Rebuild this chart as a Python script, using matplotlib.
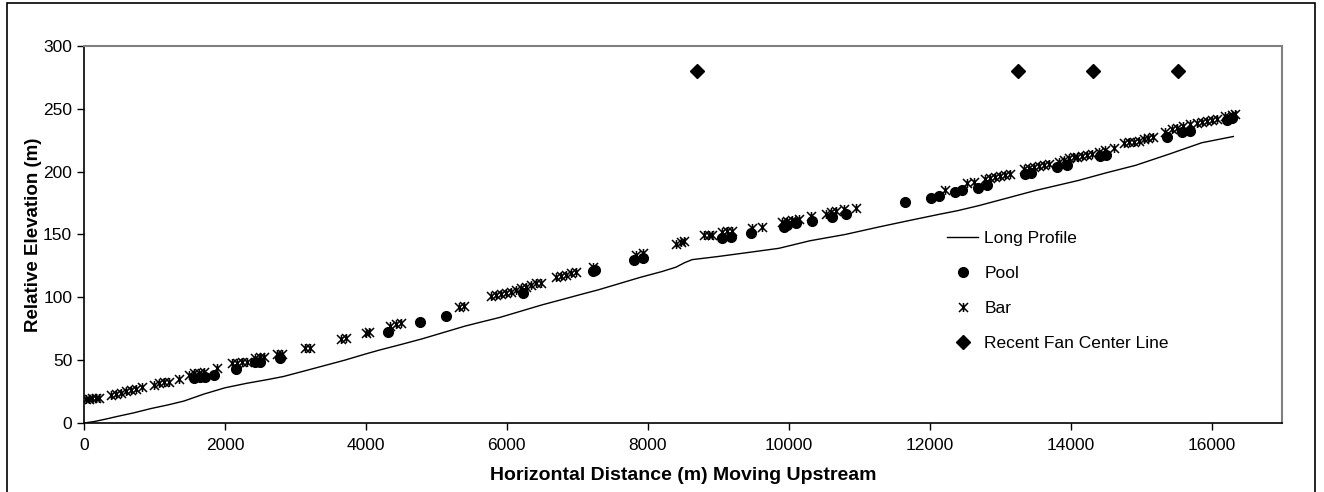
import matplotlib
matplotlib.use("Agg")
import matplotlib.pyplot as plt
from matplotlib.path import Path
from matplotlib.patches import Rectangle

plt.rcParams['font.family'] = ['Liberation Sans', 'DejaVu Sans']

# Long profile (thalweg) line
lp_x = [0, 150, 300, 470, 700, 950, 1200, 1420, 1700, 2000, 2300, 2600, 2830, 3100, 3400,
        3700, 4000, 4190, 4500, 4800, 5100, 5400, 5610, 5900, 6200, 6500, 6800, 7030, 7300,
        7600, 7900, 8200, 8400, 8520, 8630, 9000, 9400, 9860, 10300, 10800, 11280, 11700,
        12130, 12400, 12700, 13100, 13500, 14110, 14500, 14920, 15400, 15860, 16310]
lp_y = [0, 1.2, 3, 5.2, 8, 11.5, 14.5, 17.5, 23, 28, 31.5, 34.5, 37, 41, 45.5,
        50, 55, 58, 62.5, 67, 72, 77, 80, 84, 89, 94, 98.5, 102, 106,
        111, 116, 120.5, 124, 127.5, 130, 132.5, 135.5, 139, 145, 150, 156, 161,
        166, 169, 173, 179, 185, 193, 199, 205, 214, 223, 228]

# Pools
pool_x = [1559, 1653, 1724, 1842, 2150, 2433, 2504, 2787, 4312, 4775, 5140, 6225, 7217, 7255,
          7808, 7926, 9059, 9177, 9460, 9933, 9980, 10099, 10334, 10608, 10807, 11648, 12026,
          12129, 12356, 12460, 12687, 12814, 13358, 13443, 13806, 13948, 14420, 14500, 15365,
          15577, 15696, 16215, 16286]
pool_y = [35.6, 36.9, 36.4, 38.2, 42.7, 48.3, 48.8, 51.5, 72.2, 80.2, 85.4, 103.2, 121, 121.8,
          129.7, 131.6, 147.5, 148.3, 151.5, 156.3, 157.6, 159, 161, 163.7, 166.1, 176.2, 179.4,
          180.7, 184.1, 185.5, 187.3, 189.4, 198, 198.8, 203.5, 205.4, 212.5, 213, 227.4,
          231.9, 232.7, 241.2, 242.5]

# Bars
bar_x = [24, 71, 118, 165, 212, 378, 449, 520, 591, 662, 733, 826, 992, 1063, 1134, 1205, 1346,
         1488, 1559, 1630, 1701, 1889, 2097, 2168, 2239, 2310, 2433, 2504, 2551, 2740, 2811,
         3132, 3203, 3651, 3722, 4006, 4043, 4336, 4431, 4502, 5328, 5399,
         5777, 5848, 5919, 5990, 6061, 6132, 6203, 6274, 6344, 6415, 6486,
         6699, 6770, 6840, 6911, 6982, 7217, 7832, 7926, 8398, 8469, 8516,
         8800, 8871, 8918, 9059, 9130, 9201, 9484, 9617, 9909, 9980, 10051, 10146, 10311,
         10524, 10594, 10665, 10783, 10958, 12224, 12531, 12626,
         12791, 12862, 12933, 13004, 13075, 13146, 13335, 13406, 13476, 13547, 13618, 13689,
         13830, 13901, 13971, 14042, 14090, 14161, 14232, 14302, 14397, 14482, 14609,
         14751, 14822, 14893, 14964, 15035, 15105, 15176,
         15342, 15436, 15506, 15601, 15696, 15790, 15861, 15932, 16003, 16074, 16192, 16286, 16333]
bar_y = [19, 19.3, 19.6, 19.8, 20, 22.3, 23, 24, 25.5, 26.3, 26.8, 28.4, 30, 31.6, 32.4, 32.9, 35,
         38.2, 39.6, 40, 40.8, 43.5, 47.5, 47.5, 48.8, 48.8, 51.5, 52.3, 52.3, 55, 55,
         59.5, 60, 66.6, 67.4, 71.4, 72.7, 77.2, 78.5, 79.8, 92.6, 93.1,
         101, 101.9, 102.7, 103.7, 104.5, 105.9, 107.2, 108.5, 109.8, 111.2, 111.7,
         116, 117, 117.8, 119.2, 120.4, 124.4, 133.7, 135, 142.5, 144.3, 144.9,
         149.7, 149.7, 149.7, 152.3, 152.8, 153.1, 155, 156.3, 160.2, 161, 161.6, 162.1, 165,
         166.4, 168.2, 169, 170.1, 170.9, 185.5, 190.8, 192.1,
         194, 194.8, 195.6, 196.6, 197.4, 198.2, 202, 202.7, 203.5, 204.6, 205.4, 205.9,
         208, 209.3, 210.7, 211.5, 212, 212.8, 213.3, 214.1, 216, 217.3, 218.7,
         222.6, 223.4, 223.9, 224.7, 225.8, 227.1, 227.9,
         231.9, 233.8, 234.6, 236.4, 237.8, 238.6, 239.8, 240.6, 241.2, 241.8, 244.4, 245.2, 246]

# Recent fan center lines
fan_x = [8700, 13250, 14320, 15520]
fan_y = [280, 280, 280, 280]

x_ticks = [0, 2000, 4000, 6000, 8000, 10000, 12000, 14000, 16000]
y_ticks = [0, 50, 100, 150, 200, 250, 300]

W, H = 1324, 492
fig = plt.figure(figsize=(W / 100, H / 100), dpi=100)
fig.patch.set_facecolor('white')

# outer chart border
fig.patches.append(Rectangle((7 / W, -0.05), (1315 - 7) / W, 1 - 3 / H + 0.05,
                             transform=fig.transFigure, fill=False, edgecolor='black',
                             lw=1.2, clip_on=False))

ax = fig.add_axes([84 / W, 1 - 423 / H, (1282 - 84) / W, (423 - 46) / H])

star = Path([(-1, -1), (1, 1), (-1, 1), (1, -1), (0, -1), (0, 1)],
            [Path.MOVETO, Path.LINETO, Path.MOVETO, Path.LINETO, Path.MOVETO, Path.LINETO])

ax.plot(lp_x, lp_y, color='black', lw=1.0, label='Long Profile', zorder=2)
ax.plot(pool_x, pool_y, ls='none', marker='o', ms=7, color='black', label='Pool', zorder=3)
ax.plot(bar_x, bar_y, ls='none', marker=star, ms=6.5, mew=1.1, color='black',
        mec='black', label='Bar', zorder=4)
ax.plot(fan_x, fan_y, ls='none', marker='D', ms=7.5, color='black',
        label='Recent Fan Center Line', zorder=3)

ax.set_xlim(0, 17000)
ax.set_ylim(0, 300)
ax.set_xticks(x_ticks)
ax.set_yticks(y_ticks)
ax.tick_params(axis='both', direction='out', length=5, width=1, labelsize=12.5, colors='black')
ax.tick_params(axis='x', pad=6)

for s in ['left', 'bottom']:
    ax.spines[s].set_color('black')
    ax.spines[s].set_linewidth(1.2)
for s in ['top', 'right']:
    ax.spines[s].set_color('#808080')
    ax.spines[s].set_linewidth(1.5)

ax.set_xlabel('Horizontal Distance (m) Moving Upstream', fontsize=14, fontweight='bold',
              labelpad=10)
ax.set_ylabel('Relative Elevation (m)', fontsize=13.5, fontweight='bold', labelpad=1)

leg = ax.legend(loc='upper left', bbox_to_anchor=(940 / W, 1 - 224 / H),
                bbox_transform=fig.transFigure, frameon=False, fontsize=12.5,
                handlelength=1.8, handletextpad=0.35, labelspacing=1.14, borderaxespad=0)

fig.savefig('out.png', dpi=100)
